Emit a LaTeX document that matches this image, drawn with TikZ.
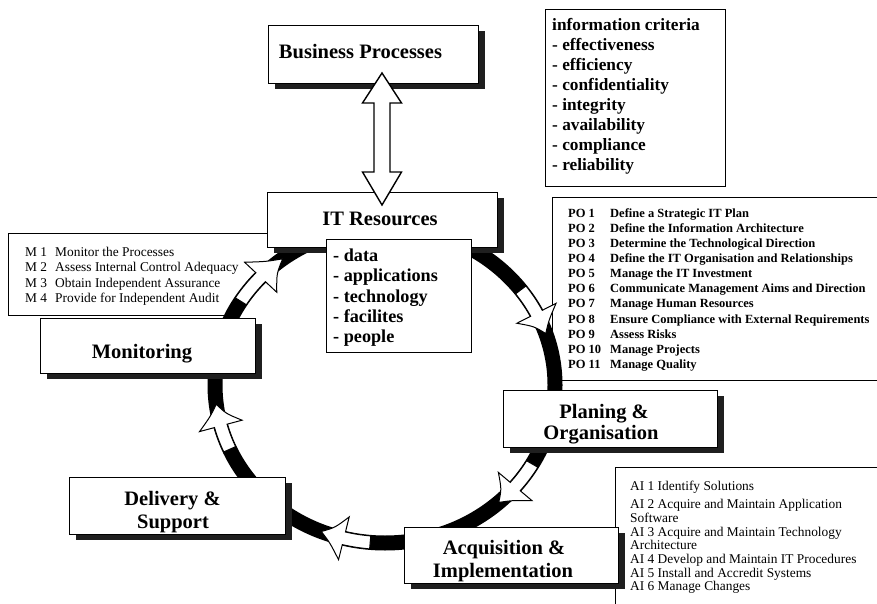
\documentclass[tikz,border=0pt]{standalone}
\usepackage{fontspec}
\setmainfont{Liberation Serif}
\usetikzlibrary{shadows}

% hollow arrow laid into the elliptical cycle: #1 tail angle, #2 neck angle, #3 tip angle
\newcommand\cyclearrow[3]{%
  \filldraw[ringarrow]
    (#1:163.5pt and 151.5pt) arc[start angle=#1, end angle=#2, x radius=163.5pt, y radius=151.5pt]
    -- (#2:148pt and 136pt)
    .. controls ({((#2)+(#3))/2}:162pt and 150pt) .. (#3:170pt and 158pt)
    .. controls ({((#2)+(#3))/2}:178pt and 166pt) .. (#2:192pt and 180pt)
    -- (#2:176.5pt and 164.5pt)
    arc[start angle=#2, end angle=#1, x radius=176.5pt, y radius=164.5pt]
    -- cycle;}

\begin{document}
\begin{tikzpicture}[x=1pt,y=1pt,
  panel/.style={draw, line width=1.1pt, fill=white, inner sep=0pt, anchor=north west,
    general shadow={fill=black!88, shadow xshift=6pt, shadow yshift=-5pt}},
  listbox/.style={draw, line width=#1, fill=white, inner sep=0pt, anchor=north west},
  listbox/.default=0.8pt,
  title/.style={font=\fontsize{20.5}{23}\selectfont\bfseries, anchor=base, inner sep=0pt},
  critline/.style={font=\fontsize{17.3}{20}\selectfont\bfseries, anchor=base west, inner sep=0pt},
  resline/.style={font=\fontsize{18.2}{20}\selectfont\bfseries, anchor=base west, inner sep=0pt},
  poline/.style={font=\fontsize{12.5}{15}\selectfont\bfseries, anchor=base west, inner sep=0pt},
  plainline/.style={font=\fontsize{13.4}{15}\selectfont, anchor=base west, inner sep=0pt},
  ringarrow/.style={fill=white, draw=black, line width=1pt, line join=miter},
  hollow/.style={fill=white, draw=black, line width=1.4pt, line join=miter}
]
\clip (0,0) rectangle (877,603);
\fill[white] (0,0) rectangle (877,603);

% ---------- lists that sit behind the cycle ----------
\node[listbox, draw=none, minimum width=260, minimum height=82] (mbox) at (8,370) {};
\draw[line width=0.8pt] (mbox.north east) -- (mbox.north west) -- (mbox.south west) -- ++(232,0);
\foreach \lab/\txt [count=\i] in {M 1/Monitor the Processes,
    M 2/Assess Internal Control Adequacy,
    M 3/Obtain Independent Assurance,
    M 4/Provide for Independent Audit}
  \node[plainline] (m\i) at (25,{346-15*(\i-1)}) {\makebox[30pt][l]{\lab}\txt};

\node[listbox, minimum width=340, minimum height=183] (pobox) at (552,406) {};
\foreach \lab/\txt [count=\i] in {PO 1/Define a Strategic IT Plan,
    PO 2/Define the Information Architecture,
    PO 3/Determine the Technological Direction,
    PO 4/Define the IT Organisation and Relationships,
    PO 5/Manage the IT Investment,
    PO 6/Communicate Management Aims and Direction,
    PO 7/Manage Human Resources,
    PO 8/Ensure Compliance with External Requirements,
    PO 9/Assess Risks,
    PO 10/Manage Projects,
    PO 11/Manage Quality}
  \node[poline] (po\i) at (568,{385-15*(\i-1)}) {\makebox[42pt][l]{\lab}\txt};

\node[listbox, minimum width=280, minimum height=150] (aibox) at (615,136) {};
\foreach \txt/\yy [count=\i] in {AI 1 Identify Solutions/113,
    AI 2 Acquire and Maintain Application/94.5,
    Software/81,
    AI 3 Acquire and Maintain Technology/67,
    Architecture/53.5,
    AI 4 Develop and Maintain IT Procedures/40,
    AI 5 Install and Accredit Systems/26,
    AI 6 Manage Changes/12.5}
  \node[plainline] (ai\i) at (630,\yy) {\txt};

\node[listbox=1.4pt, minimum width=180, minimum height=177] (critbox) at (545,594) {};
\foreach \txt [count=\i] in {information criteria, - effectiveness, - efficiency,
    - confidentiality, - integrity, - availability, - compliance, - reliability}
  \node[critline] (cr\i) at (552,{572-20*(\i-1)}) {\txt};

% ---------- the cycle ----------
\coordinate (ringc) at (385,218);
\draw[line width=15pt] (ringc) ellipse [x radius=170, y radius=158];
\begin{scope}[shift={(ringc)}]
  \cyclearrow{148}{137}{127}
  \cyclearrow{37}{27}{19}
  \cyclearrow{-30}{-40}{-48}
  \cyclearrow{-95}{-104}{-112}
  \cyclearrow{204}{195}{187}
\end{scope}

% ---------- domain boxes ----------
\node[panel, minimum width=210, minimum height=58] (bp) at (268,578) {};
\node[title] (bpt) at (360.5,544) {Business Processes};

\node[panel, minimum width=230, minimum height=55] (itr) at (267,411) {};
\node[title] (itrt) at (380,377) {IT Resources};

\node[panel, minimum width=215, minimum height=55] (mon) at (40,285) {};
\node[title] (mont) at (142,245) {Monitoring};

\node[panel, minimum width=216, minimum height=57] (del) at (69,126) {};
\node[title] (delt1) at (172.5,98) {Delivery \&};
\node[title] (delt2) at (173,75) {Support};

\node[panel, minimum width=214, minimum height=56] (acq) at (404,76) {};
\node[title] (acqt1) at (504,49) {Acquisition \&};
\node[title] (acqt2) at (503,26) {Implementation};

\node[panel, minimum width=214, minimum height=57] (plan) at (503,213) {};
\node[title] (plant1) at (604,185) {Planing \&};
\node[title] (plant2) at (601,164) {Organisation};

% ---------- resources list ----------
\node[listbox=1pt, minimum width=145, minimum height=113] (resbox) at (326,364) {};
\foreach \txt [count=\i] in {- data, - applications, - technology, - facilites, - people}
  \node[resline] (rs\i) at (333,{341-20*(\i-1)}) {\txt};

% ---------- two-way link between business processes and IT resources ----------
\coordinate (dtop) at (382,530);
\coordinate (dbot) at (382,398);
\filldraw[hollow] (dtop) -- ++(19.5,-30) -- ++(-11.5,0) -- ++(0,-69) -- ++(11.5,0)
  -- (dbot) -- ++(-19.5,33) -- ++(11.5,0) -- ++(0,69) -- ++(-11.5,0) -- cycle;
\end{tikzpicture}
\end{document}
